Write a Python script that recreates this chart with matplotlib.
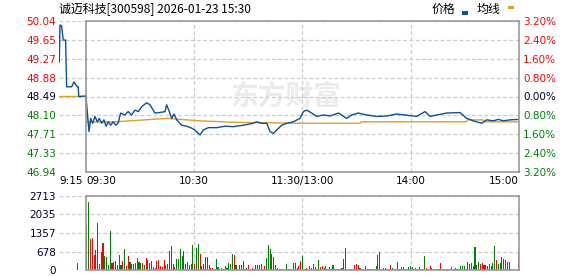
import numpy as np
import matplotlib
matplotlib.use("Agg")
import matplotlib.pyplot as plt
from matplotlib.patches import Rectangle

# header / axis info
TITLE = "诚迈科技[300598] 2026-01-23 15:30"
PREV_CLOSE = 48.49
PCT_TICKS = [3.2, 2.4, 1.6, 0.8, 0.0, -0.8, -1.6, -2.4, -3.2]
VOL_MAX = 2713
VOL_TICKS = [0, 678, 1357, 2035, 2713]
TIME_TICKS = [-15, 0, 60, 120, 180, 240]          # minutes from 09:30 (lunch removed)
TIME_LABELS = ["9:15", "09:30", "10:30", "11:30/13:00", "14:00", "15:00"]

# price line (minute, price)
price_min = [-14.8, -14.4, -13.5, -12.6, -11.3, -10.7, -7.9, -6.7, -4.8, -4.3, -4.0, 0.0,
             0.7, 1.7, 2.6, 3.7, 5.0, 6.3, 7.4, 8.7, 10.0, 11.1, 12.4, 13.7, 15.1, 16.6, 17.9,
             19.2, 21.6, 23.4, 25.3, 27.2, 29.0, 30.9, 33.6, 35.5, 38.2, 41.0, 43.8, 44.7, 46.2,
             47.5, 48.8, 50.3, 53.0, 55.8, 58.6, 60.4, 63.2, 65.0, 67.8, 72.5, 77.1, 81.7, 87.2,
             92.7, 94.6, 97.4, 100.2, 102.0, 103.8, 105.7, 108.5, 111.3, 114.9, 118.6, 120.5,
             122.3, 125.1, 127.9, 131.5, 135.3, 139.9, 144.5, 147.3, 150.9, 155.6, 161.1, 166.7,
             172.2, 176.8, 183.3, 187.9, 190.7, 194.4, 199.9, 207.3, 211.0, 214.7, 219.3, 222.1,
             225.8, 228.5, 231.3, 235.0, 240.0]
price_val = [49.20, 49.96, 49.94, 49.65, 49.65, 48.69, 48.69, 48.79, 48.69, 48.69, 48.49, 48.50,
             48.18, 47.77, 48.04, 47.94, 48.08, 47.97, 48.04, 47.94, 48.01, 47.88, 47.97, 47.90,
             47.97, 47.90, 47.95, 48.15, 48.11, 48.18, 48.11, 48.21, 48.18, 48.28, 48.36, 48.32,
             48.15, 48.16, 48.18, 48.32, 48.18, 48.04, 48.13, 48.01, 47.90, 47.88, 47.84, 47.80,
             47.70, 47.80, 47.85, 47.85, 47.88, 47.87, 47.90, 47.94, 47.97, 47.94, 47.94, 47.77,
             47.73, 47.80, 47.90, 47.94, 47.97, 48.04, 48.18, 48.21, 48.15, 48.08, 48.11, 48.09,
             48.15, 48.04, 48.11, 48.15, 48.11, 48.08, 48.09, 48.13, 48.11, 48.08, 48.18, 48.08,
             48.11, 48.15, 48.16, 48.04, 47.99, 47.94, 48.01, 47.99, 48.02, 47.99, 48.01, 48.02]

# average price line
avg_min = [-15, 0, 0.5, 16, 45, 52, 63, 82, 118, 152, 152.5, 211, 211.5, 220, 220.5, 240]
avg_val = [48.49, 48.49, 47.96, 47.97, 48.04, 48.02, 47.99, 47.96, 47.94, 47.94, 47.97,
           47.97, 48.01, 48.01, 47.97, 47.97]

# per-minute volume (09:30 .. 15:00) and up/down flags
vol_a = [1647, 2489, 1147, 1171, 549, 732, 1720, 220, 659, 988, 512, 476, 183, 1427, 256, 293,
         329, 183, 549, 183, 329, 769, 146, 512, 293, 220, 220, 256, 439, 293, 256, 256, 183,
         439, 366]
vol_b = [256, 329, 110, 73, 329, 366, 146, 110, 366, 183, 220, 695, 878, 220, 110, 403, 403,
         769, 512, 695, 220, 293, 183, 220, 915, 220, 805, 952, 586, 146, 220, 476, 476, 183,
         73, 73, 37, 403, 110, 37, 73]
vol_c = [37, 146, 73, 256, 220, 586, 549, 183, 37, 183, 183, 329, 37, 73, 183, 37, 73, 37, 183,
         183, 183, 220, 37, 146, 439, 915, 769, 586, 476, 183, 73, 37, 37, 37, 37, 220, 37, 37,
         37, 256, 256]
vol_d = [73, 146, 329, 512, 37, 73, 37, 146, 73, 220, 110, 37, 366, 110, 146, 73, 146, 37, 110,
         37, 183, 37, 37, 37, 37, 73, 403, 805, 37, 37, 37, 37, 183, 220, 183, 73, 37, 37, 146,
         37, 37]
vol_e = [37, 37, 37, 146, 549, 659, 37, 73, 73, 37, 37, 183, 73, 37, 37, 293, 37, 110, 110, 37,
         37, 110, 146, 110, 37, 73, 37, 110, 37, 37, 512, 73, 37, 146, 73, 37, 37, 37, 37, 256, 37]
vol_f = [37, 37, 37, 37, 110, 37, 73, 37, 37, 146, 146, 146, 37, 293, 220, 256, 146, 842, 183,
         293, 220, 256, 183, 183, 146, 220, 146, 256, 878, 366, 220, 256, 476, 403, 366, 293,
         293, 37, 0, 0, 0, 622]
vol_dir = ("ggrrrggrgrggggrrggrgrgrrgggrgggrgrg"
           "rgggrrrrrrgggrrgggggrrgggrggrrrrggrrrggrr"
           "rrggggrgrggrrgrrrgrrrggrgggrgrrgggggrgrrr"
           "rrrggrrgrggggrrgrgrrggggrgggrrrgrrrgrrrgr"
           "grrggrrrrggrgrrrgrrgrggggrgrrggrgrgrggrrg"
           "rrrgrgrgggggrrgrrgggrrrrrrgggrgggrrggr" "rrrr")
auction_vol = 268   # 9:25 call auction

BLUE = "#0a4fa0"
ORANGE = "#e0a020"
RED = "#ff0000"
GREEN = "#008000"
DARK = "#000033"
GRID = "#cccccc"
FRAME = "#999999"
FS = 7.5
CJK = ["Noto Sans CJK SC", "DejaVu Sans"]

W, H = 578, 276
fig = plt.figure(figsize=(W / 100, H / 100), dpi=100)
x0, x1 = 58.9, 519
ax = fig.add_axes([x0 / W, 1 - 172 / H, (x1 - x0) / W, 151 / H])
axv = fig.add_axes([x0 / W, 1 - 270 / H, (x1 - x0) / W, 74 / H])


def frame(a):
    a.set_xlim(-15, 240)
    a.spines["left"].set_visible(False)
    for s in ["top", "bottom"]:
        a.spines[s].set_bounds(0, 240)
    for s in ["top", "bottom", "right"]:
        a.spines[s].set_color(FRAME)
        a.spines[s].set_linewidth(1.2)
    a.axvline(0, color=FRAME, lw=1.2, zorder=3)
    for x in [60, 120, 180]:
        a.axvline(x, color=GRID, lw=0.9, dashes=(3, 2), zorder=0.5)
    a.tick_params(length=0, labelsize=FS)


# ---- price panel
frame(ax)
pct = np.array(PCT_TICKS)
levels = PREV_CLOSE * (1 + pct / 100)
ax.set_ylim(levels.min(), levels.max())
for y in levels:
    ax.axhline(y, color=GRID, lw=0.9, dashes=(3, 2), zorder=0.5)
ax.plot(avg_min, avg_val, color=ORANGE, lw=1.0, zorder=2)
ax.plot(price_min, price_val, color=BLUE, lw=1.0, zorder=2.2)

ax.set_yticks(levels)
ax.set_yticklabels([f"{v:.2f}" for v in levels])
ax.tick_params(axis="y", pad=2)
for lbl, p in zip(ax.get_yticklabels(), pct):
    lbl.set_color(RED if p > 0 else (GREEN if p < 0 else DARK))

ax.set_xticks(TIME_TICKS)
ax.set_xticklabels(TIME_LABELS)
ax.tick_params(axis="x", pad=3)
xl = ax.get_xticklabels()
xl[0].set_ha("left")
xl[1].set_ha("left")
xl[-1].set_ha("right")

axr = ax.twinx()
axr.set_ylim(-3.2, 3.2)
for s in axr.spines.values():
    s.set_visible(False)
axr.set_yticks(pct)
axr.set_yticklabels([f"{abs(p):.2f}%" for p in pct])
axr.tick_params(length=0, labelsize=FS, pad=3)
for lbl, p in zip(axr.get_yticklabels(), pct):
    lbl.set_color(RED if p > 0 else (GREEN if p < 0 else DARK))

# watermark
ax.text(0.495, 1 - 97 / H, "东方财富", transform=fig.transFigure, ha="center", va="center",
        fontsize=20, fontweight="bold", color="#ebebeb", family=CJK, zorder=0)

# ---- volume panel
frame(axv)
vols = np.array(vol_a + vol_b + vol_c + vol_d + vol_e + vol_f)
n = len(vols)
pos = (np.arange(n) + 0.5) * 240 / n
cols = [RED if c == "r" else GREEN for c in vol_dir]
axv.set_ylim(0, VOL_MAX)
for y in VOL_TICKS:
    axv.axhline(y, color=GRID, lw=0.9, dashes=(3, 2), zorder=0.5)
axv.bar(pos, vols, width=0.6, color=cols, zorder=2, antialiased=False)
axv.bar([-4.5], [auction_vol], width=0.6, color=RED, zorder=2, antialiased=False)
axv.set_yticks(VOL_TICKS)
axv.set_yticklabels([str(v) for v in VOL_TICKS], color=DARK)
axv.tick_params(axis="y", pad=2)
axv.set_xticks([])

# ---- title and legend
fig.text(59 / W, 1 - 9 / H, TITLE, ha="left", va="center", fontsize=8.6, family=CJK)
fig.text(432 / W, 1 - 9 / H, "价格", ha="left", va="center", fontsize=8.6, family=CJK)
fig.text(477 / W, 1 - 9 / H, "均线", ha="left", va="center", fontsize=8.6, family=CJK)
fig.add_artist(Rectangle((462 / W, 1 - 14.5 / H), 6 / W, 3 / H, transform=fig.transFigure,
                         color=BLUE, lw=0))
fig.add_artist(Rectangle((508 / W, 1 - 9 / H), 6 / W, 3 / H, transform=fig.transFigure,
                         color=ORANGE, lw=0))

fig.savefig("out.png", dpi=100)
